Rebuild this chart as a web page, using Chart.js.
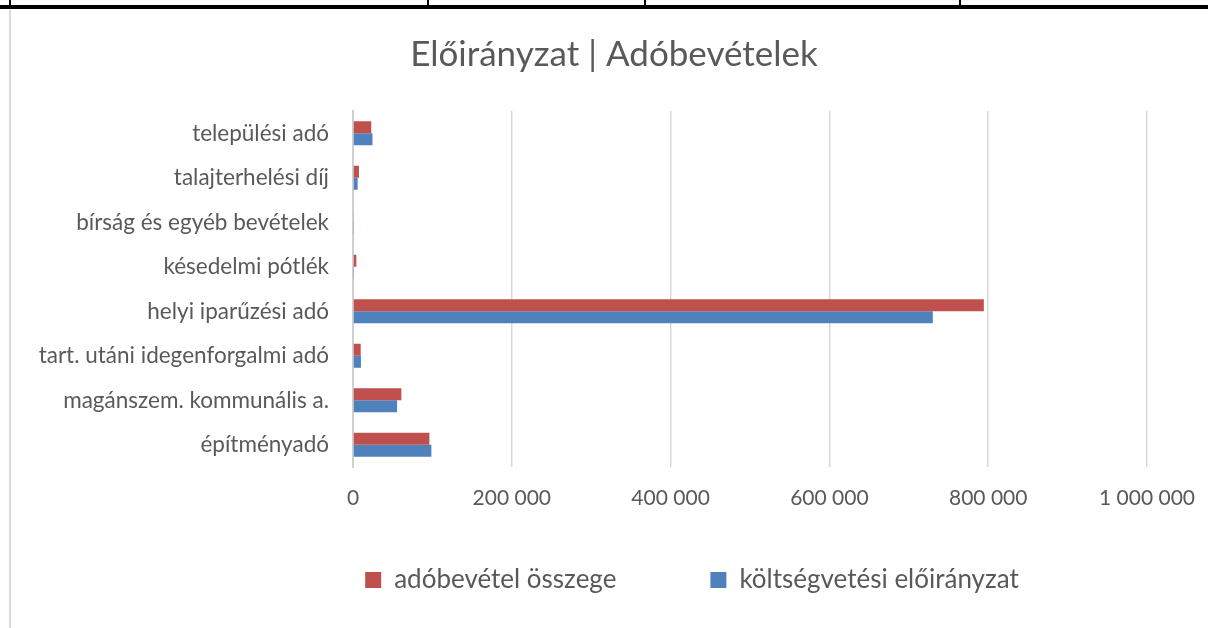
<!DOCTYPE html>
<html>
<head>
<meta charset="utf-8">
<script src="https://cdn.jsdelivr.net/npm/chart.js@4"></script>
<style>
  html, body { margin: 0; padding: 0; background: #fff; }
  body { width: 1208px; height: 628px; position: relative; overflow: hidden; }
  .rule { position: absolute; background: #000; }
  .frame { position: absolute; left: 9px; top: 10px; width: 2px; height: 618px; background: #d9d9d9; }
  #wrap { position: absolute; left: 0; top: 0; width: 1208px; height: 628px; }
</style>
</head>
<body>
<div class="rule" style="left:0;top:5px;width:1208px;height:4px"></div>
<div class="rule" style="left:9px;top:0;width:2px;height:6px"></div>
<div class="rule" style="left:427px;top:0;width:2px;height:6px"></div>
<div class="rule" style="left:644px;top:0;width:2px;height:6px"></div>
<div class="rule" style="left:959px;top:0;width:2px;height:6px"></div>
<div class="frame"></div>
<div id="wrap"><canvas id="chart-bar"></canvas></div>
<script>
/* eslint-disable no-undef */
const categories = ['települési adó', 'talajterhelési díj', 'bírság és egyéb bevételek', 'késedelmi pótlék',
  'helyi iparűzési adó', 'tart. utáni idegenforgalmi adó', 'magánszem. kommunális a.', 'építményadó']
const revenue = [23000, 7500, 800, 4200, 794500, 9700, 60900, 96200]
const budget = [24500, 5900, 600, 600, 730200, 10000, 55500, 98700]
const xTicks = [0, 200000, 400000, 600000, 800000, 1000000]

const fontFamily = 'Lato, "Open Sans", sans-serif'
const textColor = '#595959'

// the legend padding also sets the gap between items, so nudge the box afterwards
// (bottom stays put, the legend clips its drawing to its own box)
const legendShift = {
  id: 'legendShift',
  afterLayout (chart) {
    const lg = chart.legend
    lg.left += 78
    lg.right += 78
    lg.top -= 40
  }
}

const chartElement = document.getElementById('chart-bar').getContext('2d')

const taxChart = new Chart(chartElement, {
  type: 'bar',
  data: {
    labels: categories,
    datasets: [{
      label: 'adóbevétel összege',
      backgroundColor: '#C0504D',
      data: revenue
    }, {
      label: 'költségvetési előirányzat',
      backgroundColor: '#4F81BD',
      data: budget
    }]
  },
  options: {
    indexAxis: 'y',
    responsive: true,
    maintainAspectRatio: false,
    animation: false,
    categoryPercentage: 0.54,
    barPercentage: 1.0,
    layout: {
      padding: { left: 20, right: 0, top: 0, bottom: 0 }
    },
    scales: {
      x: {
        min: 0,
        max: 1000000,
        afterBuildTicks: (scale) => { scale.ticks = xTicks.map(v => ({ value: v })) },
        afterFit: (scale) => {
          scale.height = 46
          scale.paddingRight = 61
        },
        grid: { color: '#d9d9d9', lineWidth: 1.5, drawTicks: false },
        border: { display: false },
        ticks: {
          color: textColor,
          font: { family: fontFamily, size: 21 },
          padding: 19,
          callback: (v) => String(v).replace(/\B(?=(\d{3})+(?!\d))/g, ' ')
        }
      },
      y: {
        afterFit: (scale) => { scale.width = 333 },
        grid: { display: false, drawTicks: false },
        border: { display: true, color: '#d0d0d0', width: 2 },
        ticks: {
          color: textColor,
          font: { family: fontFamily, size: 22.5 },
          padding: 24
        }
      }
    },
    plugins: {
      title: {
        display: true,
        text: 'Előirányzat | Adóbevételek',
        color: textColor,
        font: { family: fontFamily, size: 35, weight: 'normal' },
        padding: { top: 34, bottom: 35 }
      },
      legend: {
        display: true,
        position: 'bottom',
        maxHeight: 115,
        labels: {
          color: textColor,
          font: { family: fontFamily, size: 26 },
          boxWidth: 16,
          boxHeight: 16,
          padding: 94
        }
      },
      tooltip: { enabled: false }
    }
  },
  plugins: [legendShift]
})
</script>
</body>
</html>
